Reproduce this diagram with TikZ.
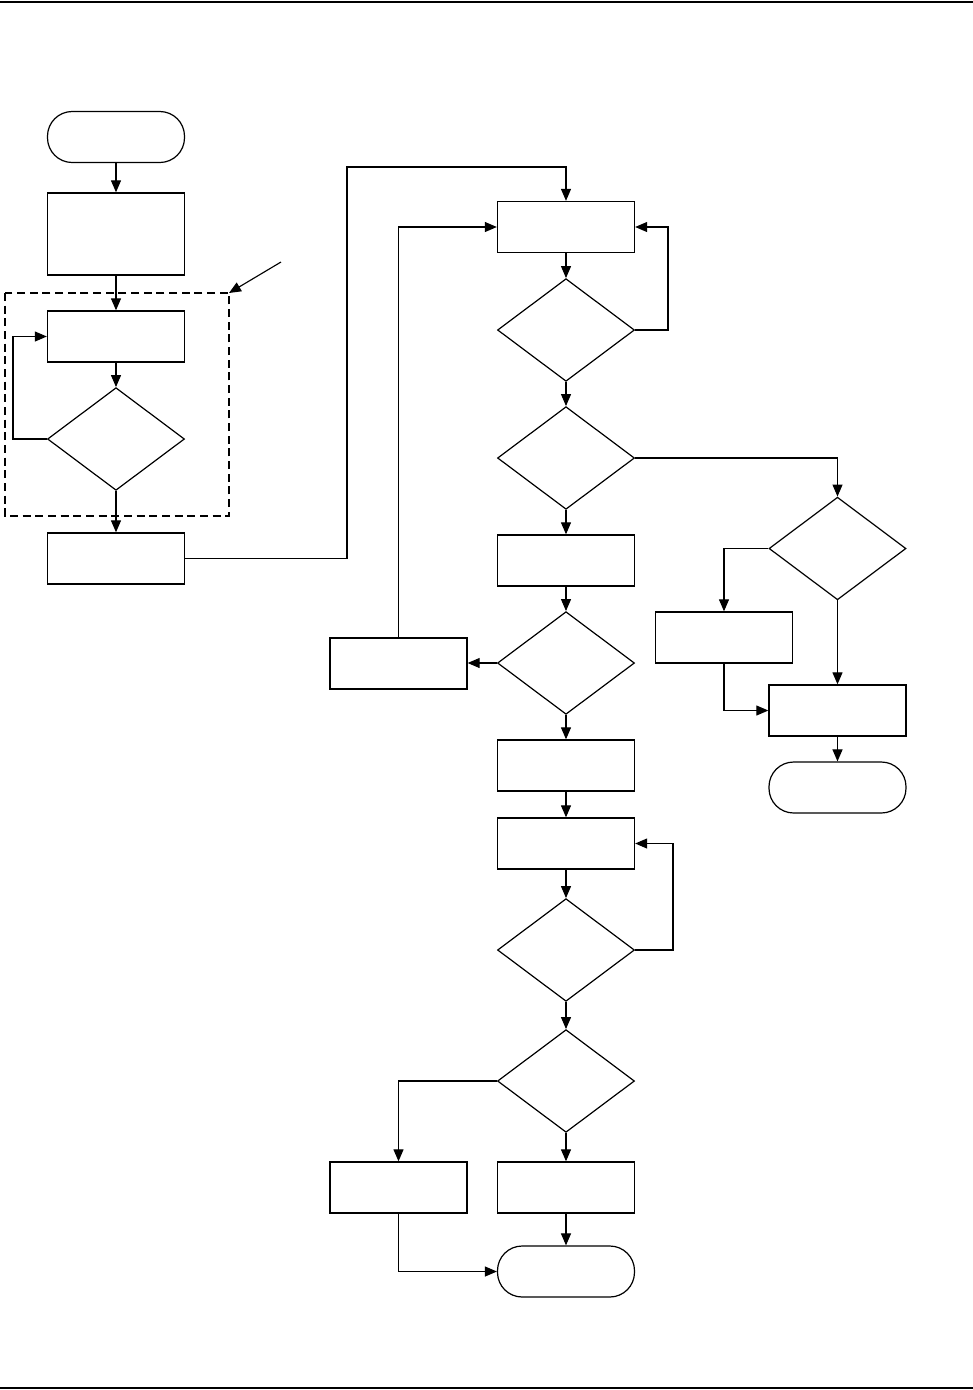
\documentclass[tikz,border=0pt]{standalone}
\usetikzlibrary{shapes.geometric,arrows.meta}
\begin{document}
\begin{tikzpicture}[x=0.75pt,y=-0.75pt,
  boxnode/.style={draw,line width=1pt,minimum width=102.75pt,minimum height=38.25pt,inner sep=0pt},
  termnode/.style={draw,line width=0.9pt,rounded corners=18.5pt,minimum width=102.75pt,minimum height=38.25pt,inner sep=0pt},
  decnode/.style={draw,diamond,line width=0.9pt,minimum width=102.75pt,minimum height=77pt,inner sep=0pt},
  conn/.style={line width=0.85pt,-{Triangle[length=9pt,width=7.5pt]}},
  plainline/.style={line width=0.85pt}]
\useasboundingbox (0,0) rectangle (973,1390);
\draw[line width=1.6pt] (0,2) -- (973,2);
\draw[line width=1.6pt] (0,1388) -- (973,1388);
% left column
\node[termnode] (start) at (116,137) {};
\node[boxnode,minimum height=61.5pt] (b1) at (116,234) {};
\node[boxnode] (b2) at (116,336.5) {};
\node[decnode] (d1) at (116,439) {};
\node[boxnode] (b3) at (116,558.5) {};
\draw[dashed,dash pattern=on 6pt off 3.5pt,line width=0.9pt] (5,293) rectangle (229,516);
\coordinate (annA) at (281,262);
\coordinate (annB) at (229,293);
\draw[conn] (annA) -- (annB);
% middle column
\node[boxnode] (b4) at (566,227) {};
\node[decnode] (d2) at (566,330) {};
\node[decnode] (d3) at (566,458) {};
\node[boxnode] (b5) at (566,560.5) {};
\node[decnode] (d5) at (566,663) {};
\node[boxnode] (b8) at (398.5,663.5) {};
\node[boxnode] (b9) at (566,765.5) {};
\node[boxnode] (b10) at (566,843.5) {};
\node[decnode] (d6) at (566,950) {};
\node[decnode] (d7) at (566,1081) {};
\node[boxnode] (b11) at (398.5,1187.5) {};
\node[boxnode] (b12) at (566,1187.5) {};
\node[termnode] (end2) at (566,1271.5) {};
% right column
\node[decnode] (d4) at (837.5,548.5) {};
\node[boxnode] (b6) at (724,637.5) {};
\node[boxnode] (b7) at (837.5,710.5) {};
\node[termnode] (end1) at (837.5,787.5) {};
% waypoints
\coordinate (w1) at (347,558.5);
\coordinate (w2) at (347,167);
\coordinate (w3) at (13,439);
\coordinate (w4) at (668,330);
\coordinate (w5) at (673,950);
% connectors
\draw[conn] (start) -- (b1);
\draw[conn] (b1) -- (b2);
\draw[conn] (b2) -- (d1);
\draw[conn] (d1) -- (b3);
\draw[conn] (d1.west) -- (w3) |- (b2.west);
\draw[conn] (b3.east) -- (w1) -- (w2) -| (b4.north);
\draw[conn] (b4) -- (d2);
\draw[conn] (d2.east) -- (w4) |- (b4.east);
\draw[conn] (d2) -- (d3);
\draw[conn] (d3) -- (b5);
\draw[conn] (d3.east) -| (d4.north);
\draw[conn] (b5) -- (d5);
\draw[conn] (d5.west) -- (b8.east |- d5.west);
\draw[conn] (b8.north) |- (b4.west);
\draw[conn] (d5) -- (b9);
\draw[conn] (b9) -- (b10);
\draw[conn] (b10) -- (d6);
\draw[conn] (d6.east) -- (w5) |- (b10.east);
\draw[conn] (d6) -- (d7);
\draw[conn] (d7.west) -| (b11.north);
\draw[conn] (d7) -- (b12);
\draw[conn] (b12) -- (end2);
\draw[conn] (b11.south) |- (end2.west);
\draw[conn] (d4.west) -| (b6.north);
\draw[conn] (d4.south) -- (b7.north);
\draw[conn] (b6.south) |- (b7.west);
\draw[conn] (b7) -- (end1);
\end{tikzpicture}
\end{document}
